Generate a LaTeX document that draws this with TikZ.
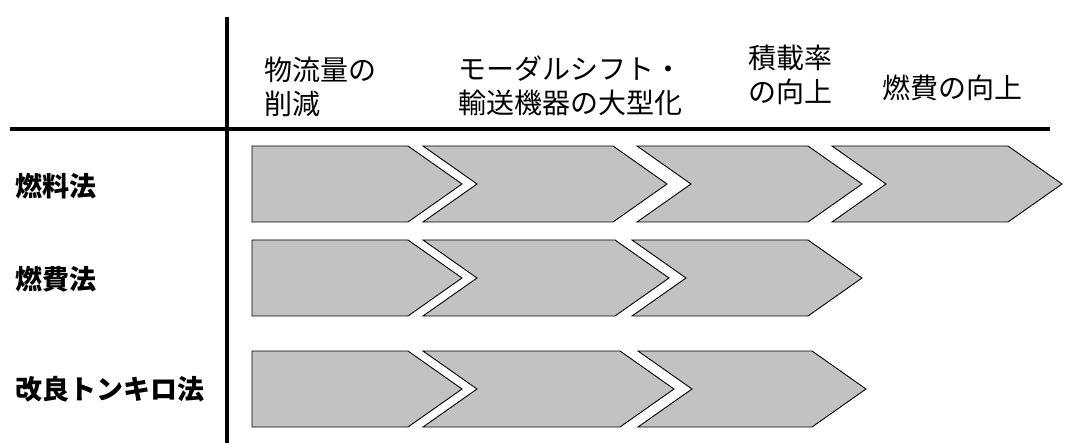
\documentclass[tikz,border=0pt]{standalone}
\usepackage{fontspec}
\setmainfont{Noto Sans CJK JP}
\usetikzlibrary{arrows.meta}

\begin{document}
\begin{tikzpicture}[x=1pt, y=-1pt, rule/.style = {line width=3.5pt}, stage/.style = {draw=black, line width=0.9pt, fill=black!24, line join=miter}, head/.style = {anchor=west, align=left, inner sep=0pt, font=\fontsize{28}{34}\selectfont}, method/.style = {anchor=west, inner sep=0pt, font=\fontsize{27}{34}\selectfont\bfseries}]
    \useasboundingbox (0,0) rectangle (1070,443);

    % grid lines
    \coordinate (vtop) at (227,17);
    \coordinate (vbot) at (227,443);
    \coordinate (hleft) at (10,129);
    \coordinate (hright) at (1050,129);
    \draw[rule] (vtop) -- (vbot);
    \draw[rule] (hleft) -- (hright);

    % headings
    \node[head] (reduce) at (264,87) {物流量の\\削減};
    \node[head] (modal) at (458,86) {モーダルシフト・\\輸送機器の大型化};
    \node[head] (load) at (748,75) {積載率\\の向上};
    \node[head] (fuel) at (882,88) {燃費の向上};

    % methods
    \node[method] (fuellaw) at (15,186) {燃料法};
    \node[method] (economylaw) at (15,279) {燃費法};
    \node[method] (tonkm) at (15,389) {改良トンキロ法};

    % chevrons: notch / left x / top-right x / top y
    \foreach \n/\a/\b/\t in {0/252/408/146, 54/423/613/146, 54/637/808/146, 54/832/1008/146,
                             0/252/408/240, 54/423/615/240, 54/632/808/240,
                             0/252/408/351, 54/423/620/351, 54/638/812/351}
        \draw[stage] (\a,\t) -- (\b,\t) -- (\b+54,\t+38) -- (\b,\t+76) -- (\a,\t+76) -- (\a+\n,\t+38) -- cycle;

\end{tikzpicture}
\end{document}
